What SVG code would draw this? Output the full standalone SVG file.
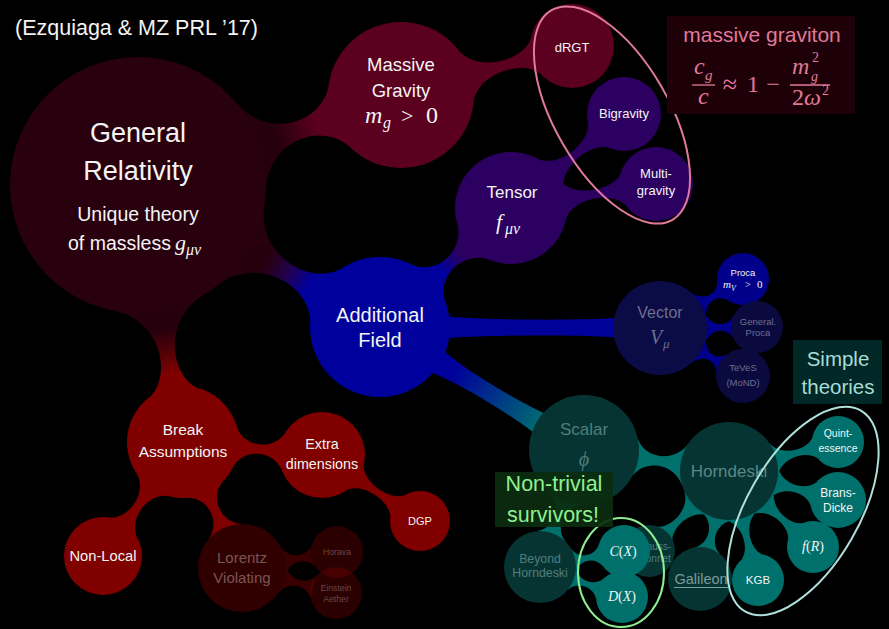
<svg xmlns="http://www.w3.org/2000/svg" width="889" height="629" viewBox="0 0 889 629">
<style>
.t{font-family:"Liberation Sans",Arial,sans-serif;text-anchor:middle;fill:#f4f4f4}
.m{font-family:"Liberation Serif","DejaVu Serif",serif;font-style:italic;fill:#f4f4f4}
.u{font-family:"Liberation Serif","DejaVu Serif",serif;font-style:normal}
.dimB{fill:#6e6e90}
.dimT{fill:#4f7f7c}
.dimR{fill:#7a5656}
.pur{fill:#2b0060}
.cteal{fill:#00706c}
.cblue{fill:#00008c}
.cred{fill:#800000}
.pk{fill:#e07a98}
</style>
<defs>
<linearGradient id="gGRMG" x1="0" y1="0" x2="1" y2="0"><stop offset="0.3" stop-color="#27000e"/><stop offset="0.75" stop-color="#5c0020"/></linearGradient>
<linearGradient id="gGRAF" x1="0" y1="0" x2="1" y2="0"><stop offset="0.3" stop-color="#27000e"/><stop offset="0.55" stop-color="#22004e"/><stop offset="0.8" stop-color="#00009c"/></linearGradient>
<linearGradient id="gGRBr" x1="0" y1="0" x2="1" y2="0"><stop offset="0.3" stop-color="#27000e"/><stop offset="0.8" stop-color="#800000"/></linearGradient>
<linearGradient id="gAFT" x1="0" y1="0" x2="1" y2="0"><stop offset="0.3" stop-color="#00009c"/><stop offset="0.7" stop-color="#2b0060"/></linearGradient>
<linearGradient id="gAFS" x1="0" y1="0" x2="1" y2="0"><stop offset="0.2" stop-color="#00009c"/><stop offset="1" stop-color="#007070"/></linearGradient>
</defs>
<rect x="0" y="0" width="889" height="629" fill="#000"/>

<g id="connectors">
<path fill="url(#gGRMG)" transform="translate(138,185) rotate(-18.89)" d="M120.3,-43.8 C139.55,0 193.42,0 211.83,-30.88 L211.83,30.88 C193.42,0 139.55,0 120.3,43.8 Z"/>
<path fill="url(#gGRAF)" transform="translate(138,185) rotate(30.40)" d="M120.3,-43.8 C140.39,0 198.19,0 217.16,-29.61 L217.16,29.61 C198.19,0 140.39,0 120.3,43.8 Z"/>
<path fill="url(#gGRBr)" transform="translate(138,185) rotate(80.07)" d="M120.3,-43.8 C139.54,0 193.37,0 210.17,-23.69 L210.17,23.69 C193.37,0 139.54,0 120.3,43.8 Z"/>
<path fill="#5c0020" transform="translate(401,95) rotate(-15.99)" d="M68.6,-25 C82.43,0 126.45,0 139.83,-17.77 L139.83,17.77 C126.45,0 82.43,0 68.6,25 Z"/>
<path fill="url(#gAFT)" transform="translate(380,327) rotate(-42.25)" d="M65.8,-23.9 C77.65,0 113.33,0 126.24,-23.69 L126.24,23.69 C113.33,0 77.65,0 65.8,23.9 Z"/>
<path class="pur" transform="translate(511,208) rotate(-39.76)" d="M52.6,-19.2 C64.1,0 101.89,0 113.47,-15.65 L113.47,15.65 C101.89,0 64.1,0 52.6,19.2 Z"/>
<path class="pur" transform="translate(511,208) rotate(-9.40)" d="M52.6,-19.2 C64.1,0 101.89,0 113.47,-15.65 L113.47,15.65 C101.89,0 64.1,0 52.6,19.2 Z"/>
<path fill="#00009a" transform="translate(380,327) rotate(0.2)" d="M60,-12 C80,-7 215,-7 236,-10 L236,10 C215,7 80,7 60,12 Z"/>
<path fill="url(#gAFS)" transform="translate(380,327) rotate(31.09)" d="M60,-14 C85,-7 163,-7 191,-12 L191,12 C163,7 85,7 60,14 Z"/>
<path class="cblue" transform="translate(660,328) rotate(-30.55)" d="M44.2,-16.1 C50.5,0 66.88,0 72.82,-11 L72.82,11 C66.88,0 50.5,0 44.2,16.1 Z"/>
<path class="cblue" transform="translate(660,328) rotate(-0.59)" d="M44.2,-16.1 C50.6,0 67.4,0 73.44,-11 L73.44,11 C67.4,0 50.6,0 44.2,16.1 Z"/>
<path class="cblue" transform="translate(660,328) rotate(30.04)" d="M44.2,-16.1 C50.28,0 65.6,0 71.42,-11.42 L71.42,11.42 C65.6,0 50.28,0 44.2,16.1 Z"/>
<path class="cteal" transform="translate(584,450) rotate(8.24)" d="M51.7,-18.8 C61.38,0 91.13,0 102.12,-20.73 L102.12,20.73 C91.13,0 61.38,0 51.7,18.8 Z"/>
<path class="cteal" transform="translate(584,450) rotate(110.61)" d="M51.7,-18.8 C60.1,0 83.9,0 92.38,-15.23 L92.38,15.23 C83.9,0 60.1,0 51.7,18.8 Z"/>
<path class="cteal" transform="translate(729,471) rotate(-14.90)" d="M46.1,-16.8 C54.67,0 81.12,0 89.23,-11 L89.23,11 C81.12,0 54.67,0 46.1,16.8 Z"/>
<path class="cteal" transform="translate(729,471) rotate(14.90)" d="M46.1,-16.8 C54.37,0 79.42,0 87.42,-11.84 L87.42,11.84 C79.42,0 54.37,0 46.1,16.8 Z"/>
<path class="cteal" transform="translate(729,471) rotate(42.14)" d="M46.1,-16.8 C54.74,0 81.54,0 89.72,-11 L89.72,11 C81.54,0 54.74,0 46.1,16.8 Z"/>
<path class="cteal" transform="translate(729,471) rotate(75.10)" d="M46.1,-16.8 C54.67,0 81.12,0 89.23,-11 L89.23,11 C81.12,0 54.67,0 46.1,16.8 Z"/>
<path class="cteal" transform="translate(729,471) rotate(105.03)" d="M46.1,-16.8 C53.62,0 75.21,0 82.84,-13.54 L82.84,13.54 C75.21,0 53.62,0 46.1,16.8 Z"/>
<path class="cteal" transform="translate(729,471) rotate(135.36)" d="M46.1,-16.8 C54.83,0 82.02,0 90.29,-11 L90.29,11 C82.02,0 54.83,0 46.1,16.8 Z"/>
<path class="cteal" transform="translate(540,567) rotate(-10.78)" d="M33.8,-12.3 C39.53,0 55.98,0 61.95,-11 L61.95,11 C55.98,0 39.53,0 33.8,12.3 Z"/>
<path class="cteal" transform="translate(540,567) rotate(20.10)" d="M33.8,-12.3 C39.8,0 57.52,0 63.76,-11 L63.76,11 C57.52,0 39.8,0 33.8,12.3 Z"/>
<path class="cred" transform="translate(183,442) rotate(5.34)" d="M52.6,-19.2 C62.09,0 90.52,0 100.65,-18.19 L100.65,18.19 C90.52,0 62.09,0 52.6,19.2 Z"/>
<path class="cred" transform="translate(183,442) rotate(125.06)" d="M52.6,-19.2 C62.64,0 93.63,0 103.94,-16.5 L103.94,16.5 C93.63,0 62.64,0 52.6,19.2 Z"/>
<path class="cred" transform="translate(183,442) rotate(64.91)" d="M52.6,-19.2 C61.87,0 89.26,0 99.27,-18.61 L99.27,18.61 C89.26,0 61.87,0 52.6,19.2 Z"/>
<path class="cred" transform="translate(322,455) rotate(33.96)" d="M40.4,-14.7 C49.77,0 81.38,0 90.97,-12.69 L90.97,12.69 C81.38,0 49.77,0 40.4,14.7 Z"/>
<path fill="#380000" transform="translate(242,568) rotate(-9.56)" d="M41.4,-15 C47.95,0 66.39,0 72.78,-11 L72.78,11 C66.39,0 47.95,0 41.4,15 Z"/>
<path fill="#380000" transform="translate(242,568) rotate(14.89)" d="M41.4,-15 C48.09,0 67.18,0 73.71,-11 L73.71,11 C67.18,0 48.09,0 41.4,15 Z"/>
</g>

<g id="node-gr">
<circle cx="138" cy="185" r="128" fill="#28000e"/>
<text class="t" x="138" y="142" font-size="27">General</text>
<text class="t" x="138" y="180" font-size="27">Relativity</text>
<text class="t" x="138" y="221" font-size="19.5">Unique theory</text>
<text class="t" x="68" y="250" font-size="19.5" style="text-anchor:start">of massless</text>
<text class="m" x="175" y="250" font-size="22">g</text>
<text class="m" x="186" y="255" font-size="16">μν</text>
</g>

<g id="node-massive-gravity">
<circle cx="401" cy="95" r="73" fill="#5c0020"/>
<text class="t" x="401" y="71" font-size="18.5">Massive</text>
<text class="t" x="401" y="97" font-size="18.5">Gravity</text>
<text class="m" x="365" y="123" font-size="24">m</text>
<text class="m" x="383" y="128" font-size="16">g</text>
<text class="m u" x="401" y="123" font-size="22">&gt;</text>
<text class="m u" x="426" y="123" font-size="24">0</text>
</g>

<g id="node-drgt">
<circle cx="572" cy="46" r="42" fill="#5c0020"/>
<text class="t" x="572" y="52" font-size="13">dRGT</text>
</g>

<g id="node-tensor">
<circle cx="511" cy="208" r="56" fill="#2b0060"/>
<text class="t" x="512" y="198" font-size="17">Tensor</text>
<text class="m" x="496" y="229" font-size="22">f</text>
<text class="m" x="505" y="234" font-size="16">μν</text>
</g>

<g id="node-bigravity">
<circle cx="624" cy="114" r="37" fill="#2b0060"/>
<text class="t" x="624" y="118" font-size="13">Bigravity</text>
</g>

<g id="node-multigravity">
<circle cx="656" cy="184" r="37" fill="#2b0060"/>
<text class="t" x="656" y="178" font-size="13">Multi-</text>
<text class="t" x="656" y="195" font-size="13">gravity</text>
</g>

<g id="node-additional-field">
<circle cx="380" cy="327" r="70" fill="#00009c"/>
<text class="t" x="380" y="322" font-size="20">Additional</text>
<text class="t" x="380" y="347" font-size="20">Field</text>
</g>

<g id="node-vector">
<circle cx="660" cy="328" r="47" fill="#0b0b46"/>
<text class="t dimB" x="660" y="318" font-size="16">Vector</text>
<text class="m dimB" x="650" y="344" font-size="20">V</text>
<text class="m dimB" x="663" y="348" font-size="13">μ</text>
</g>

<g id="node-proca">
<circle cx="743" cy="279" r="26" fill="#00008a"/>
<text class="t" x="743" y="276" font-size="9.5">Proca</text>
<text class="m" x="723" y="288" font-size="11">m</text>
<text class="m" x="731" y="291" font-size="8">V</text>
<text class="m u" x="745" y="288" font-size="10">&gt;</text>
<text class="m u" x="757" y="288" font-size="11">0</text>
</g>

<g id="node-general-proca">
<circle cx="757" cy="327" r="26" fill="#0a0a3e"/>
<text class="t dimB" x="758" y="325" font-size="9.5">General.</text>
<text class="t dimB" x="758" y="336" font-size="9.5">Proca</text>
</g>

<g id="node-teves">
<circle cx="743" cy="376" r="27" fill="#0a0a3e"/>
<text class="t dimB" x="743" y="371" font-size="9.5">TeVeS</text>
<text class="t dimB" x="743" y="386" font-size="9.5">(MoND)</text>
</g>

<g id="node-scalar">
<circle cx="584" cy="450" r="55" fill="#063433"/>
<text class="t dimT" x="584" y="435" font-size="17">Scalar</text>
<text class="m dimT" x="584" y="466" font-size="20" style="text-anchor:middle">ϕ</text>
</g>

<g id="node-horndeski">
<circle cx="729" cy="471" r="49" fill="#063433"/>
<text class="t" x="729" y="477" font-size="17" style="fill:#5a8886">Horndeski</text>
</g>

<g id="node-quintessence">
<circle cx="838" cy="442" r="26" fill="#00706c"/>
<text class="t" x="838" y="437" font-size="10.5">Quint-</text>
<text class="t" x="838" y="452" font-size="10.5">essence</text>
</g>

<g id="node-brans-dicke">
<circle cx="838" cy="500" r="28" fill="#00706c"/>
<text class="t" x="838" y="497" font-size="12">Brans-</text>
<text class="t" x="838" y="512" font-size="12">Dicke</text>
</g>

<g id="node-fR">
<circle cx="813" cy="547" r="26" fill="#00706c"/>
<text class="m u" x="813" y="551" font-size="14" style="text-anchor:middle"><tspan font-style="italic">f</tspan>(<tspan font-style="italic">R</tspan>)</text>
</g>

<g id="node-kgb">
<circle cx="758" cy="580" r="26" fill="#00706c"/>
<text class="t" x="758" y="584" font-size="11.5">KGB</text>
</g>

<g id="node-galileon">
<circle cx="700" cy="579" r="32" fill="#063433"/>
<text class="t" x="701" y="584" font-size="14.5" style="fill:#7a9a98">Galileon</text>
<line x1="674" y1="587.5" x2="728" y2="587.5" stroke="#7a9a98" stroke-width="1.2"/>
</g>

<g id="node-gauss-bonnet">
<circle cx="649" cy="551" r="26" fill="#063433"/>
<text class="t dimT" x="655" y="550" font-size="10">Gauss-</text>
<text class="t dimT" x="655" y="562" font-size="10">Bonnet</text>
</g>

<g id="node-cx">
<circle cx="624" cy="551" r="26" fill="#00706c"/>
<text class="m u" x="623" y="556" font-size="14" style="text-anchor:middle"><tspan font-style="italic">C</tspan>(<tspan font-style="italic">X</tspan>)</text>
</g>

<g id="node-dx">
<circle cx="622" cy="597" r="26" fill="#00706c"/>
<text class="m u" x="622" y="601" font-size="14" style="text-anchor:middle"><tspan font-style="italic">D</tspan>(<tspan font-style="italic">X</tspan>)</text>
</g>

<g id="node-beyond-horndeski">
<circle cx="540" cy="567" r="36" fill="#063433"/>
<text class="t dimT" x="540" y="563" font-size="12.3">Beyond</text>
<text class="t dimT" x="540" y="577" font-size="12.3">Horndeski</text>
</g>

<g id="node-break-assumptions">
<circle cx="183" cy="442" r="56" fill="#800000"/>
<text class="t" x="183" y="435" font-size="15.5">Break</text>
<text class="t" x="183" y="457" font-size="15.5">Assumptions</text>
</g>

<g id="node-extra-dimensions">
<circle cx="322" cy="455" r="43" fill="#800000"/>
<text class="t" x="322" y="449" font-size="14.3">Extra</text>
<text class="t" x="322" y="469" font-size="14.3">dimensions</text>
</g>

<g id="node-dgp">
<circle cx="420" cy="521" r="30" fill="#800000"/>
<text class="t" x="420" y="525" font-size="11">DGP</text>
</g>

<g id="node-non-local">
<circle cx="103" cy="556" r="39" fill="#800000"/>
<text class="t" x="103" y="561" font-size="14.7">Non-Local</text>
</g>

<g id="node-lorentz-violating">
<circle cx="242" cy="568" r="44" fill="#300000"/>
<text class="t dimR" x="242" y="563" font-size="15">Lorentz</text>
<text class="t dimR" x="242" y="583" font-size="15">Violating</text>
</g>

<g id="node-horava">
<circle cx="337" cy="552" r="26" fill="#000"/>
<circle cx="337" cy="552" r="26" fill="#800000" fill-opacity="0.33"/>
<text class="t" x="337" y="555" font-size="8.7" style="fill:#6e4848">Horava</text>
</g>

<g id="node-einstein-aether">
<circle cx="336" cy="593" r="26" fill="#800000" fill-opacity="0.33"/>
<text class="t" x="336" y="591" font-size="8.7" style="fill:#6e4848">Einstein</text>
<text class="t" x="336" y="602" font-size="8.7" style="fill:#6e4848">Aether</text>
</g>

<g id="groupings" fill="none" stroke-width="2">
<ellipse cx="612" cy="115" rx="57" ry="121" transform="rotate(-30 612 115)" stroke="#e07a98"/>
<ellipse cx="803" cy="511" rx="56" ry="116" transform="rotate(30 803 511)" stroke="#b0e0dc"/>
<ellipse cx="621" cy="572.5" rx="43" ry="54.5" stroke="#90ee90"/>
</g>

<g id="box-massive-graviton">
<rect x="667" y="16" width="188" height="98" fill="#1e0008"/>
<text class="t pk" x="762" y="42" font-size="21">massive graviton</text>
<text class="m pk" x="694" y="74" font-size="24">c</text>
<text class="m pk" x="705" y="80" font-size="15">g</text>
<line x1="692" y1="85" x2="715" y2="85" stroke="#e07a98" stroke-width="1.3"/>
<text class="m pk" x="698" y="104" font-size="24">c</text>
<text class="m u pk" x="730" y="93" font-size="26" style="text-anchor:middle">≈</text>
<text class="m u pk" x="753" y="92" font-size="24" style="text-anchor:middle">1</text>
<text class="m u pk" x="773" y="92" font-size="24" style="text-anchor:middle">−</text>
<text class="m pk" x="792" y="74" font-size="24">m</text>
<text class="m u pk" x="812" y="62" font-size="14">2</text>
<text class="m pk" x="811" y="81" font-size="14">g</text>
<line x1="790" y1="85" x2="830" y2="85" stroke="#e07a98" stroke-width="1.3"/>
<text class="m u pk" x="792" y="105" font-size="24">2</text>
<text class="m pk" x="804" y="105" font-size="24">ω</text>
<text class="m u pk" x="822" y="95" font-size="14">2</text>
</g>

<g id="box-simple-theories">
<rect x="793" y="340" width="89" height="64" fill="#002826"/>
<text class="t" x="838" y="366" font-size="20.5" style="fill:#a8dcd6">Simple</text>
<text class="t" x="838" y="394" font-size="20.5" style="fill:#a8dcd6">theories</text>
</g>

<g id="box-non-trivial">
<rect x="495" y="472" width="118" height="55" fill="#0b2d0f" fill-opacity="0.92"/>
<text class="t" x="554" y="491" font-size="21.5" style="fill:#8fef8f">Non-trivial</text>
<text class="t" x="553" y="522" font-size="21.5" style="fill:#8fef8f">survivors!</text>
</g>

<text id="citation" class="t" x="15" y="35" font-size="21.5" style="text-anchor:start">(Ezquiaga &amp; MZ PRL ’17)</text>
</svg>
